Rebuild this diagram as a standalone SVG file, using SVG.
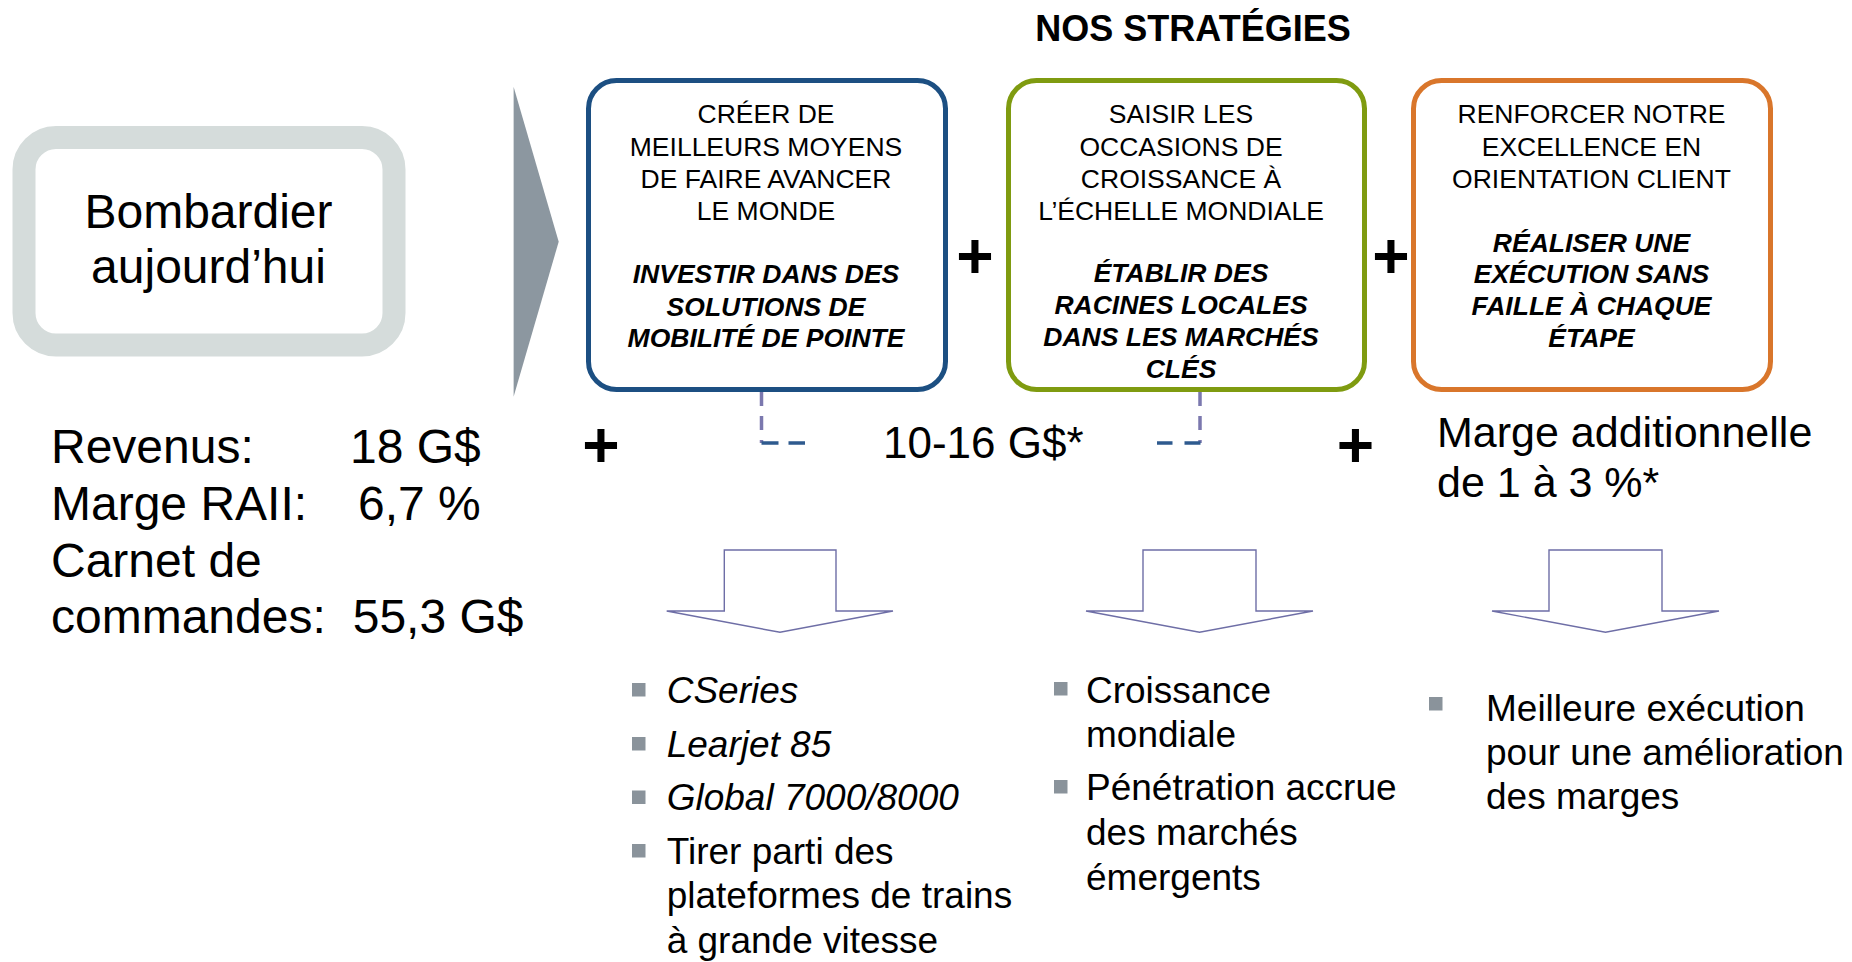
<svg xmlns="http://www.w3.org/2000/svg" width="1852" height="962" viewBox="0 0 1852 962">
<style>
text{font-family:"Liberation Sans",Arial,sans-serif;fill:#000}
.box{fill:#fff;stroke-width:5}
.bt{font-size:26.5px;text-anchor:middle}
.bi{font-size:26.5px;text-anchor:middle;font-weight:bold;font-style:italic}
.plus{font-size:64px;font-weight:bold;text-anchor:middle}
.stat{font-size:48px}
.big{font-size:44px}
.li{font-size:37px}
.it{font-style:italic}
.bul{fill:#8A939B}
.barrow{fill:#fff;stroke:#6E6EA6;stroke-width:1.4}
.dv{stroke:#7B78AE;stroke-width:3.5;fill:none}
.dh{stroke:#2E5A8E;stroke-width:3.5;fill:none}
</style>

<text x="1193" y="41" style="font-size:36px;font-weight:bold;text-anchor:middle">NOS STRATÉGIES</text>

<g id="today">
<rect x="24" y="137.5" width="370" height="207.5" rx="32" fill="#fff" stroke="#D5DCDB" stroke-width="23"/>
<text x="208.5" y="228" style="font-size:48px;text-anchor:middle">Bombardier</text>
<text x="208.5" y="283" style="font-size:48px;text-anchor:middle">aujourd’hui</text>
</g>

<g id="chevron">
<polygon points="513.6,86.7 558.7,241.7 513.6,396.7" fill="#8C97A0"/>
</g>

<g id="stats">
<text class="stat" x="51" y="463">Revenus:</text>
<text class="stat" x="350" y="463">18 G$</text>
<text class="stat" x="51" y="520">Marge RAII:</text>
<text class="stat" x="358" y="520">6,7 %</text>
<text class="stat" x="51" y="577">Carnet de</text>
<text class="stat" x="51" y="633">commandes:</text>
<text class="stat" x="352.7" y="633">55,3 G$</text>
</g>

<g id="strategy1">
<rect class="box" x="588.5" y="80.5" width="357" height="309" rx="28" stroke="#1C4F82"/>
<text class="bt" x="766" y="123.3">CRÉER DE</text>
<text class="bt" x="766" y="155.7">MEILLEURS MOYENS</text>
<text class="bt" x="766" y="187.7">DE FAIRE AVANCER</text>
<text class="bt" x="766" y="220">LE MONDE</text>
<text class="bi" x="766" y="283.3">INVESTIR DANS DES</text>
<text class="bi" x="766" y="315.7">SOLUTIONS DE</text>
<text class="bi" x="766" y="347.3">MOBILITÉ DE POINTE</text>
</g>

<g id="strategy2">
<rect class="box" x="1008.5" y="80.5" width="356" height="309" rx="28" stroke="#7F9B10"/>
<text class="bt" x="1181" y="123.3">SAISIR LES</text>
<text class="bt" x="1181" y="155.7">OCCASIONS DE</text>
<text class="bt" x="1181" y="187.7">CROISSANCE À</text>
<text class="bt" x="1181" y="219.5">L’ÉCHELLE MONDIALE</text>
<text class="bi" x="1181" y="282">ÉTABLIR DES</text>
<text class="bi" x="1181" y="314">RACINES LOCALES</text>
<text class="bi" x="1181" y="346">DANS LES MARCHÉS</text>
<text class="bi" x="1181" y="377.5">CLÉS</text>
</g>

<g id="strategy3">
<rect class="box" x="1413.5" y="80.5" width="357" height="309" rx="28" stroke="#D9762B"/>
<text class="bt" x="1591.5" y="123.3">RENFORCER NOTRE</text>
<text class="bt" x="1591.5" y="155.7">EXCELLENCE EN</text>
<text class="bt" x="1591.5" y="187.7">ORIENTATION CLIENT</text>
<text class="bi" x="1591.5" y="251.7">RÉALISER UNE</text>
<text class="bi" x="1591.5" y="282.7">EXÉCUTION SANS</text>
<text class="bi" x="1591.5" y="315">FAILLE À CHAQUE</text>
<text class="bi" x="1591.5" y="346.7">ÉTAPE</text>
</g>

<g id="operators">
<text class="plus" x="975" y="278">+</text>
<text class="plus" x="1391" y="278">+</text>
<text class="plus" x="601" y="467">+</text>
<text class="plus" x="1355.5" y="467">+</text>
</g>

<g id="connectors">
<line class="dv" x1="761.5" y1="392" x2="761.5" y2="443" stroke-dasharray="14 10"/>
<line class="dh" x1="761.5" y1="443" x2="805" y2="443" stroke-dasharray="17 10"/>
<line class="dv" x1="1200" y1="392" x2="1200" y2="443" stroke-dasharray="14 10"/>
<line class="dh" x1="1200.5" y1="443" x2="1157" y2="443" stroke-dasharray="16 12"/>
<path class="barrow" d="M724.3 550 H836 V611 H893 L780 632.3 L666.7 611 H724.3 Z"/>
<path class="barrow" d="M1143 550 H1256 V611 H1313 L1199.5 632.3 L1086 611 H1143 Z"/>
<path class="barrow" d="M1549 550 H1662 V611 H1719 L1605.5 632.3 L1492 611 H1549 Z"/>
</g>

<g id="value1">
<text class="big" x="883" y="458">10-16 G$*</text>
</g>

<g id="value2">
<text class="big" x="1437" y="446.7" style="font-size:43px">Marge additionnelle</text>
<text class="big" x="1437" y="496.7" style="font-size:43px">de 1 à 3 %*</text>
</g>

<g id="list1">
<rect class="bul" x="632" y="683" width="13.5" height="13.5"/>
<text class="li it" x="666.7" y="703">CSeries</text>
<rect class="bul" x="632" y="737" width="13.5" height="13.5"/>
<text class="li it" x="666.7" y="756.5">Learjet 85</text>
<rect class="bul" x="632" y="790.5" width="13.5" height="13.5"/>
<text class="li it" x="666.7" y="810">Global 7000/8000</text>
<rect class="bul" x="632" y="844" width="13.5" height="13.5"/>
<text class="li" x="666.7" y="863.5">Tirer parti des</text>
<text class="li" x="666.7" y="908">plateformes de trains</text>
<text class="li" x="666.7" y="952.5">à grande vitesse</text>
</g>

<g id="list2">
<rect class="bul" x="1054" y="682" width="13.5" height="13.5"/>
<text class="li" x="1086" y="703">Croissance</text>
<text class="li" x="1086" y="747">mondiale</text>
<rect class="bul" x="1054" y="780" width="13.5" height="13.5"/>
<text class="li" x="1086" y="800">Pénétration accrue</text>
<text class="li" x="1086" y="845">des marchés</text>
<text class="li" x="1086" y="890">émergents</text>
</g>

<g id="list3">
<rect class="bul" x="1429" y="697" width="13.5" height="13.5"/>
<text class="li" x="1486" y="721">Meilleure exécution</text>
<text class="li" x="1486" y="765">pour une amélioration</text>
<text class="li" x="1486" y="809">des marges</text>
</g>
</svg>
